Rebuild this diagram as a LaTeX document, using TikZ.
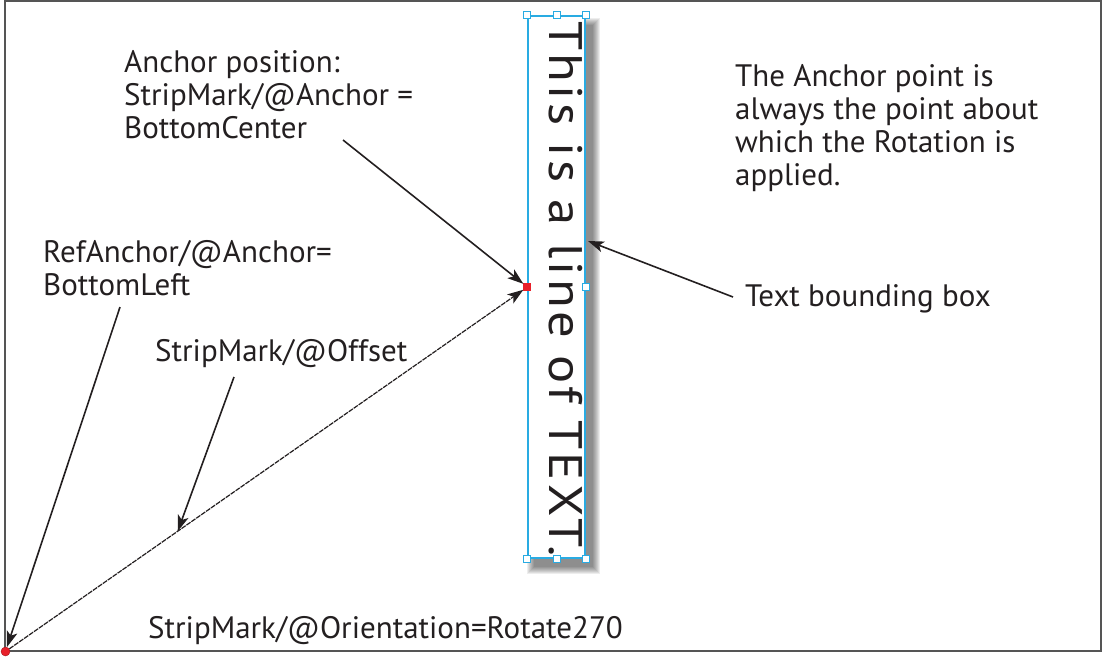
\documentclass[tikz,border=0pt]{standalone}
\usepackage{fontspec}
\setmainfont{PT Sans}
\usepackage{xcolor}
\definecolor{BoxCyan}{HTML}{29ABE2}
\definecolor{AnchorRed}{HTML}{E8202A}
\definecolor{FrameGray}{HTML}{555555}
\definecolor{InkBlack}{HTML}{231F20}
\usetikzlibrary{calc, arrows.meta, positioning}

\begin{document}
\begin{tikzpicture}[x=1pt, y=-1pt,
    label/.style={font=\fontsize{31}{33}\selectfont, inner sep=0pt, anchor=base west, align=left, text=InkBlack},
    pointer/.style={-{Stealth[length=16pt, width=11pt, inset=4pt]}, line width=1.6pt, InkBlack},
    handle/.style={draw=BoxCyan, fill=white, line width=1pt, minimum size=7pt, inner sep=0pt}]
  \useasboundingbox (0,0) rectangle (1102,657);
  \draw[FrameGray, line width=1.5pt] (5,0.75) rectangle (1101,651);
  % soft shadow behind the text box
  \foreach \k in {1,...,8}
    \fill[black, opacity=0.07] ($(535,26)+(-\k,-\k)$) rectangle ($(592,566)+(\k,\k)$);
  \node[draw=BoxCyan, fill=white, line width=1.3pt, minimum width=57pt, minimum height=542pt, inner sep=0pt] (bbox) at (556.5,287) {};
  \node[rotate=-90, anchor=base west, inner sep=0pt, text=InkBlack,
        font=\fontsize{47}{47}\selectfont\addfontfeatures{FakeStretch=1.12, LetterSpace=7}] (linetext) at (549,21) {This is a line of TEXT.};
  \foreach \a in {north west,north,north east,east,south east,south,south west}
    \node[handle] at (bbox.\a) {};
  \node[handle, fill=AnchorRed, draw=AnchorRed] (anchorpt) at (bbox.west) {};
  \node[circle, fill=AnchorRed, draw=AnchorRed!70!black, minimum size=9pt, inner sep=0pt] (origin) at (5.5,651.5) {};

  % labels (base anchor = baseline of the last line)
  \node[label] (anchorlbl) at (124,138) {Anchor position:\\StripMark/@Anchor =\\BottomCenter};
  \node[label] (rotnote) at (735,185) {The Anchor point is\\always the point about\\which the Rotation is\\applied.};
  \node[label] (reflbl) at (43,295) {RefAnchor/@Anchor=\\BottomLeft};
  \node[label] (offsetlbl) at (155,361) {StripMark/@Offset};
  \node[label] (bboxlbl) at (745,306) {Text bounding box};
  \node[label] (orientlbl) at (148,638) {StripMark/@Orientation=Rotate270};

  \coordinate (anchortail) at (343,140);
  \coordinate (reftail) at (120,307);
  \coordinate (offsettail) at (234,377);
  \coordinate (offsethit) at ($(origin)!0.33!(anchorpt)$);
  \coordinate (bboxtail) at (733,297);
  \coordinate (bboxhit) at (588,241);

  \draw[pointer, line width=1.2pt, dash pattern=on 5pt off 1pt] (origin) -- (anchorpt);
  \draw[pointer] (anchortail) -- (anchorpt);
  \draw[pointer] (reftail) -- (origin);
  \draw[pointer] (offsettail) -- (offsethit);
  \draw[pointer] (bboxtail) -- (bboxhit);
\end{tikzpicture}
\end{document}
